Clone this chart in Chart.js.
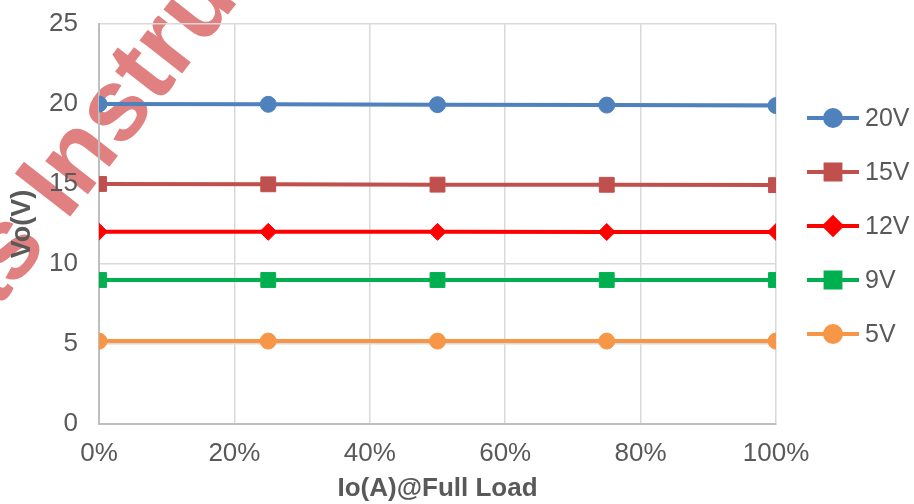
<!DOCTYPE html>
<html>
<head>
<meta charset="utf-8">
<script src="https://cdn.jsdelivr.net/npm/chart.js@4"></script>
<style>
  html, body { margin: 0; padding: 0; background: #fff; }
  #wrap { width: 914px; height: 504px; }
</style>
</head>
<body>
<div id="wrap"><canvas id="chart" width="914" height="504"></canvas></div>
<script>
// load fraction at each measurement point
const loadPoints = [0, 0.25, 0.5, 0.75, 1];
const xTickLabels = ['0%', '20%', '40%', '60%', '80%', '100%'];
const yTickLabels = ['0', '5', '10', '15', '20', '25'];

const seriesNames = ['20V', '15V', '12V', '9V', '5V'];
const vo20 = [20.0, 19.98, 19.96, 19.93, 19.9];
const vo15 = [15.0, 14.98, 14.96, 14.95, 14.93];
const vo12 = [12.02, 12.01, 12.01, 12.0, 12.0];
const vo9 = [9.0, 9.0, 9.0, 9.0, 9.0];
const vo5 = [5.18, 5.18, 5.18, 5.18, 5.18];

const textColor = '#595959';
const fontFamily = '"Liberation Sans", Arial, sans-serif';

function toPoints(vals) {
    return vals.map((v, i) => ({ x: loadPoints[i], y: v }));
}

function makeSet(name, vals, color, style, radius) {
    return {
        label: name,
        data: toPoints(vals),
        borderColor: color,
        backgroundColor: color,
        borderWidth: 4,
        pointStyle: style,
        pointRadius: radius,
        pointHoverRadius: radius,
        pointBorderWidth: 1,
        pointBorderColor: color,
        pointBackgroundColor: color,
        tension: 0
    };
}

const datasets = [
    makeSet(seriesNames[0], vo20, '#4F81BD', 'circle', 8),
    makeSet(seriesNames[1], vo15, '#C0504D', 'rect', 10.5),
    makeSet(seriesNames[2], vo12, '#FF0000', 'rectRot', 8.5),
    makeSet(seriesNames[3], vo9, '#00B050', 'rect', 10.5),
    makeSet(seriesNames[4], vo5, '#F79646', 'circle', 8)
];

// faint watermark behind the plot
const watermark = {
    id: 'watermark',
    beforeDraw(chart) {
        const ctx = chart.ctx;
        ctx.save();
        ctx.fillStyle = '#E08080';
        ctx.font = 'bold 102px ' + fontFamily;
        ctx.translate(66, 222);
        ctx.rotate(-52 * Math.PI / 180);
        ctx.textBaseline = 'alphabetic';
        ctx.textAlign = 'right';
        ctx.fillText('Texas ', 0, 0);
        ctx.textAlign = 'left';
        ctx.fillText('Instruments', 0, 0);
        ctx.restore();
    }
};

// legend on the right: line with marker, then label
const sideLegend = {
    id: 'sideLegend',
    afterDraw(chart) {
        const ctx = chart.ctx;
        const x0 = 807, len = 52, gap = 54;
        let y = 118;
        ctx.save();
        chart.data.datasets.forEach(ds => {
            ctx.strokeStyle = ds.borderColor;
            ctx.lineWidth = 4;
            ctx.beginPath();
            ctx.moveTo(x0, y);
            ctx.lineTo(x0 + len, y);
            ctx.stroke();
            ctx.fillStyle = ds.backgroundColor;
            Chart.helpers.drawPoint(ctx, {
                pointStyle: ds.pointStyle,
                radius: ds.pointRadius,
                borderWidth: 1,
                rotation: 0
            }, x0 + len / 2, y);
            ctx.fillStyle = textColor;
            ctx.font = '25px ' + fontFamily;
            ctx.textAlign = 'left';
            ctx.textBaseline = 'middle';
            ctx.fillText(ds.label, x0 + len + 6, y + 1);
            y += gap;
        });
        ctx.restore();
    }
};

new Chart(document.getElementById('chart'), {
    type: 'line',
    data: { datasets },
    plugins: [watermark, sideLegend],
    options: {
        responsive: false,
        animation: false,
        layout: { padding: { left: 0, top: 24, right: 138, bottom: 0 } },
        plugins: { legend: { display: false }, tooltip: { enabled: false } },
        scales: {
            x: {
                type: 'linear',
                min: 0,
                max: 1,
                afterFit: s => { s.height = 80; },
                ticks: {
                    stepSize: 0.2,
                    color: textColor,
                    font: { size: 26, family: fontFamily },
                    padding: 14,
                    maxRotation: 0,
                    callback: (v, i) => xTickLabels[i]
                },
                grid: { color: '#D9D9D9', lineWidth: 1.5, drawTicks: false },
                border: { color: '#BFBFBF', width: 2 },
                title: {
                    display: true,
                    text: 'Io(A)@Full Load',
                    color: textColor,
                    font: { size: 26, weight: 'bold', family: fontFamily },
                    padding: { top: 4, bottom: 0 }
                }
            },
            y: {
                min: 0,
                max: 25,
                afterFit: s => { s.width = 99; s.paddingTop = 0; s.paddingBottom = 0; },
                ticks: {
                    stepSize: 5,
                    color: textColor,
                    font: { size: 26, family: fontFamily },
                    padding: 21,
                    callback: (v, i) => yTickLabels[i]
                },
                grid: { color: '#D9D9D9', lineWidth: 1.5, drawTicks: false },
                border: { color: '#BFBFBF', width: 2 },
                title: {
                    display: true,
                    text: 'Vo(V)',
                    color: textColor,
                    font: { size: 27, weight: 'bold', family: fontFamily },
                    padding: { top: 6, bottom: 0 }
                }
            }
        }
    }
});
</script>
</body>
</html>
